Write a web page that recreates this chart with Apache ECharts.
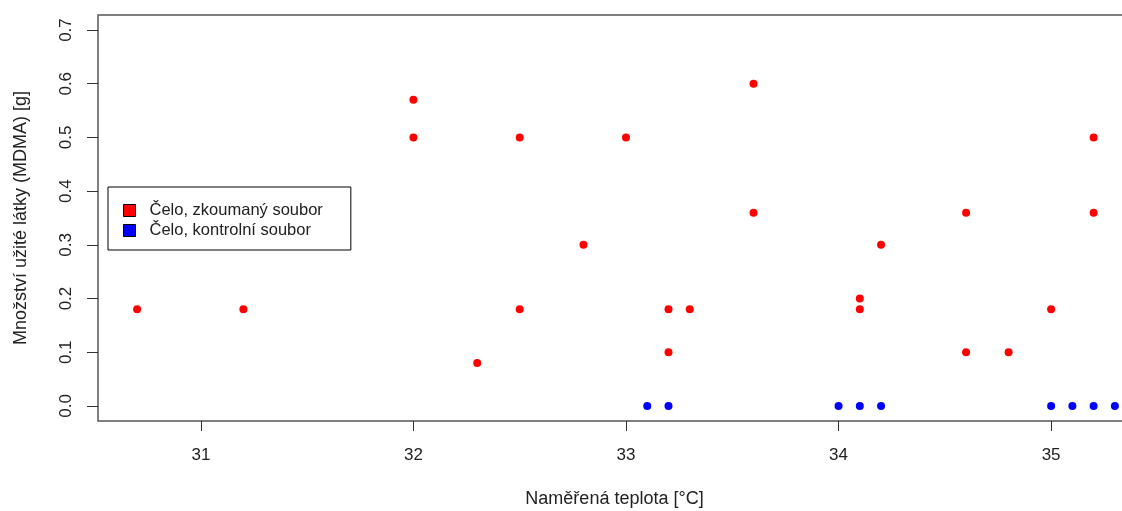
<!DOCTYPE html>
<html>
<head>
<meta charset="utf-8">
<script src="https://cdn.jsdelivr.net/npm/echarts@6/dist/echarts.min.js"></script>
<style>
  html, body { margin: 0; padding: 0; background: #fff; }
  #chart { width: 1122px; height: 511px; }
</style>
</head>
<body>
<div id="chart"></div>
<script>
// data
const studyTemp = [30.7, 31.2, 32.0, 32.0, 32.3, 32.5, 32.5, 32.8, 33.0, 33.2, 33.2, 33.3,
  33.6, 33.6, 34.1, 34.1, 34.2, 34.6, 34.6, 34.8, 35.0, 35.2, 35.2];
const studyDose = [0.18, 0.18, 0.57, 0.5, 0.08, 0.5, 0.18, 0.3, 0.5, 0.18, 0.1, 0.18,
  0.6, 0.36, 0.2, 0.18, 0.3, 0.36, 0.1, 0.1, 0.18, 0.5, 0.36];
const controlTemp = [33.1, 33.2, 34.0, 34.1, 34.2, 35.0, 35.1, 35.2, 35.3];
const controlDose = [0, 0, 0, 0, 0, 0, 0, 0, 0];
const xTicks = [31, 32, 33, 34, 35];
const yTicks = [0, 0.1, 0.2, 0.3, 0.4, 0.5, 0.6, 0.7];
const seriesNames = ['Čelo, zkoumaný soubor', 'Čelo, kontrolní soubor'];

const font = 'Arial, "Liberation Sans", sans-serif';
const chart = echarts.init(document.getElementById('chart'));

// plot region runs past the right edge of the picture (it is cut off there)
chart.setOption({
  animation: false,
  backgroundColor: '#fff',
  textStyle: { fontFamily: font },
  grid: {
    left: 98, top: 15, right: -32, bottom: 90,
    outerBoundsMode: 'none',
    containLabel: false,
    show: true, borderColor: '#555', borderWidth: 1.5
  },
  legend: {
    orient: 'vertical',
    left: 108, top: 187,
    padding: [15, 28, 11, 15],
    itemGap: 3,
    itemWidth: 12, itemHeight: 12,
    backgroundColor: '#fff',
    borderColor: '#000', borderWidth: 1,
    icon: 'rect',
    itemStyle: { borderColor: '#000', borderWidth: 1, opacity: 1 },
    textStyle: { fontFamily: font, fontSize: 16.5, color: '#222', padding: [0, 0, 0, 9] },
    data: seriesNames
  },
  xAxis: {
    type: 'value',
    min: 30.516, max: 35.484,
    name: 'Naměřená teplota [°C]',
    nameLocation: 'middle',
    nameGap: 69,
    nameTextStyle: { fontFamily: font, fontSize: 18, color: '#222', padding: [0, 23, 0, 0] },
    axisLine: { show: false, onZero: false },
    axisTick: { show: true, customValues: xTicks, length: 10, lineStyle: { color: '#333' } },
    axisLabel: { customValues: xTicks, margin: 26, fontSize: 17, color: '#222', fontFamily: font },
    splitLine: { show: false }
  },
  yAxis: {
    type: 'value',
    min: -0.028, max: 0.728,
    name: 'Množství užité látky (MDMA) [g]',
    nameLocation: 'middle',
    nameGap: 68,
    nameTextStyle: { fontFamily: font, fontSize: 18, color: '#222' },
    axisLine: { show: false, onZero: false },
    axisTick: { show: true, customValues: yTicks, length: 11, lineStyle: { color: '#333' } },
    axisLabel: {
      customValues: yTicks, rotate: 90, margin: 23, fontSize: 17, color: '#222', fontFamily: font,
      formatter: v => v.toFixed(1)
    },
    splitLine: { show: false }
  },
  series: [
    {
      name: seriesNames[0],
      type: 'scatter',
      symbolSize: 8,
      itemStyle: { color: '#ff0000', opacity: 1 },
      data: studyTemp.map((t, i) => [t, studyDose[i]])
    },
    {
      name: seriesNames[1],
      type: 'scatter',
      symbolSize: 8,
      itemStyle: { color: '#0000ff', opacity: 1 },
      data: controlTemp.map((t, i) => [t, controlDose[i]])
    }
  ]
});
</script>
</body>
</html>
